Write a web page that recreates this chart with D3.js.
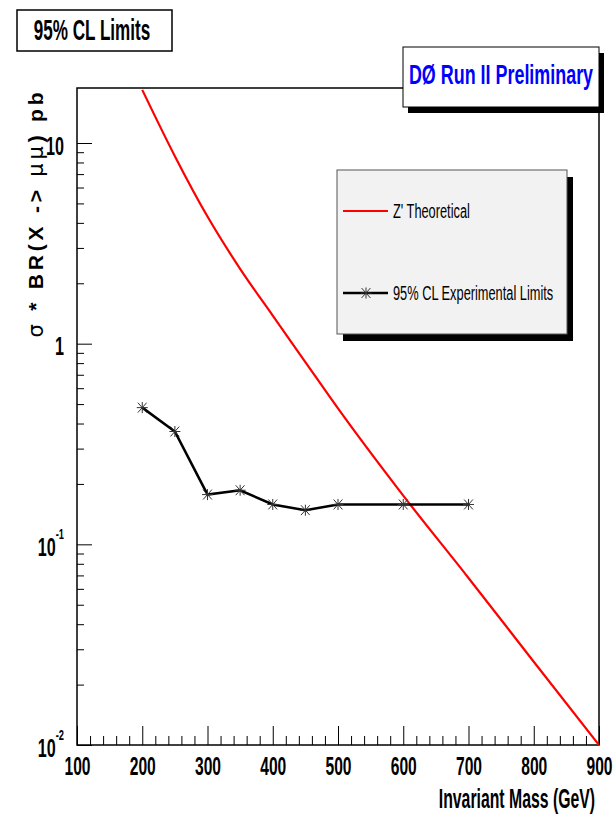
<!DOCTYPE html>
<html>
<head>
<meta charset="utf-8">
<script src="https://cdn.jsdelivr.net/npm/d3@7"></script>
<style>
body { margin: 0; background: #fff; }
text { font-family: "Liberation Sans", Arial, Helvetica, sans-serif; }
</style>
</head>
<body>
<div id="canvas"></div>
<script>
// 95% CL experimental limits (black, star markers)
var expMass = [200, 250, 300, 350, 400, 450, 500, 600, 700]
var expLimit = [0.48, 0.365, 0.177, 0.186, 0.158, 0.148, 0.158, 0.158, 0.158]

// Z' theoretical cross section (red)
var zMass = [200, 250, 300, 350, 400, 450, 500, 600, 700, 800, 900]
var zXsec = [18.4, 8.6, 4.3, 2.36, 1.38, 0.81, 0.476, 0.175, 0.068, 0.026, 0.01]

// tick labels
var xTicks = [100, 200, 300, 400, 500, 600, 700, 800, 900]
var yTicks = [0.01, 0.1, 1, 10]
var yTickBase = ['10', '10', '1', '10']
var yTickExp = ['-2', '-1', '', '']

var legendNames = ["Z' Theoretical", "95% CL Experimental Limits"]

//    frame
var W = 614, H = 816
var x0 = 77, x1 = 599, y0 = 88, y1 = 745

var svg = d3.select('#canvas').append('svg')
    .attr('width', W)
    .attr('height', H)

var xScale = d3.scaleLinear().domain([100, 900]).range([x0, x1])
var yScale = d3.scaleLog().domain([0.01, 18.8]).range([y1, y0])

// minor ticks
var xMinor = d3.range(100, 900, 20).filter(v => v % 100 != 0)
var yMinor = []
yTicks.forEach(function (d) {
    for (var m = 2; m <= 9; m++) {
        var v = d * m
        if (v < yScale.domain()[1]) yMinor.push(v)
    }
})

//    x axis
svg.append('g').attr('transform', 'translate(0,' + y1 + ')')
    .call(d3.axisBottom(xScale).tickValues(xMinor).tickSize(-9).tickSizeOuter(0).tickFormat(''))
var gx = svg.append('g').attr('transform', 'translate(0,' + y1 + ')')
    .call(d3.axisBottom(xScale).tickValues(xTicks).tickSize(-19).tickSizeOuter(0).tickFormat(d3.format('d')))

gx.selectAll('.tick text')
    .attr('y', 30)
    .attr('dy', null)
    .style('font-size', '26px')
    .style('font-weight', 'bold')
    .attr('fill', '#000')
    .attr('transform', 'scale(0.6,1)')

//    y axis
svg.append('g').attr('transform', 'translate(' + x0 + ',0)')
    .call(d3.axisLeft(yScale).tickValues(yMinor).tickSize(-7).tickSizeOuter(0).tickFormat(''))
var gy = svg.append('g').attr('transform', 'translate(' + x0 + ',0)')
    .call(d3.axisLeft(yScale).tickValues(yTicks).tickSize(-15).tickSizeOuter(0).tickFormat(''))

gy.selectAll('.tick text').each(function (d, i) {
    var t = d3.select(this)
    t.text(null)
        .attr('x', 0)
        .attr('y', 11)
        .attr('dy', null)
        .attr('text-anchor', 'end')
        .attr('fill', '#000')
        .style('font-size', '26px')
        .style('font-weight', 'bold')
        .attr('transform', 'translate(-13,0) scale(0.62,1)')
    t.append('tspan').text(yTickBase[i])
    if (yTickExp[i]) {
        t.append('tspan').attr('dy', -17).style('font-size', '15px').text(yTickExp[i])
    }
})

svg.selectAll('.domain').remove()
svg.selectAll('.tick line').attr('stroke', '#000').attr('stroke-width', 1)

//    frame
svg.append('rect')
    .attr('x', x0).attr('y', y0)
    .attr('width', x1 - x0).attr('height', y1 - y0)
    .attr('fill', 'none')
    .attr('stroke', '#000')
    .attr('stroke-width', 1.5)

svg.append('clipPath').attr('id', 'plotclip')
    .append('rect')
    .attr('x', x0).attr('y', y0)
    .attr('width', x1 - x0).attr('height', y1 - y0)

//    Z' curve
var zLine = d3.line()
    .x((d, i) => xScale(zMass[i]))
    .y(d => yScale(d))
    .curve(d3.curveMonotoneX)

svg.append('path')
    .datum(zXsec)
    .attr('clip-path', 'url(#plotclip)')
    .attr('d', zLine)
    .attr('fill', 'none')
    .attr('stroke', '#ff0000')
    .attr('stroke-width', 2.2)

//    experimental limits
var expLine = d3.line()
    .x((d, i) => xScale(expMass[i]))
    .y(d => yScale(d))

svg.append('path')
    .datum(expLimit)
    .attr('d', expLine)
    .attr('fill', 'none')
    .attr('stroke', '#000')
    .attr('stroke-width', 2.6)

function star(r) {
    var a = r * 0.8, b = r * 0.9
    return 'M0,' + (-r) + 'L0,' + r +
        'M' + (-a) + ',' + (-b) + 'L' + a + ',' + b +
        'M' + (-a) + ',' + b + 'L' + a + ',' + (-b) +
        'M' + (-r) + ',0L' + r + ',0'
}

svg.selectAll('.mk')
    .data(expLimit)
    .enter()
    .append('path')
    .attr('class', 'mk')
    .attr('transform', (d, i) => 'translate(' + xScale(expMass[i]) + ',' + yScale(d) + ')')
    .attr('d', star(5.5))
    .attr('fill', 'none')
    .attr('stroke', '#333')
    .attr('stroke-width', 1)

//    axis titles
svg.append('text')
    .attr('text-anchor', 'end')
    .attr('transform', 'translate(595,808) scale(0.585,1)')
    .style('font-size', '27px')
    .style('font-weight', 'bold')
    .text('Invariant Mass (GeV)')

var ylab = svg.append('text')
    .attr('text-anchor', 'middle')
    .attr('transform', 'translate(43,215) rotate(-90)')
    .attr('textLength', 245)
    .attr('lengthAdjust', 'spacing')
    .style('font-size', '21px')
    .style('font-weight', 'bold')
ylab.append('tspan').style('font-weight', 'normal').style('font-family', '"DejaVu Sans", sans-serif').text('σ')
ylab.append('tspan').text(' * BR(X -> ')
ylab.append('tspan').style('font-weight', 'normal').style('font-family', '"DejaVu Sans", sans-serif').text('μμ')
ylab.append('tspan').text(') pb')

//    legend
var lg = svg.append('g')
lg.append('rect')
    .attr('x', 343).attr('y', 177)
    .attr('width', 230).attr('height', 164)
    .attr('fill', '#000')
lg.append('rect')
    .attr('x', 337).attr('y', 170)
    .attr('width', 230).attr('height', 164)
    .attr('fill', '#f2f2f2')
    .attr('stroke', '#555')
    .attr('stroke-width', 1)

var legY = [211, 293]
lg.append('line')
    .attr('x1', 343).attr('x2', 388)
    .attr('y1', legY[0]).attr('y2', legY[0])
    .attr('stroke', '#ff0000').attr('stroke-width', 2.2)
lg.append('line')
    .attr('x1', 343).attr('x2', 388)
    .attr('y1', legY[1]).attr('y2', legY[1])
    .attr('stroke', '#000').attr('stroke-width', 2.6)
lg.append('path')
    .attr('transform', 'translate(366,' + legY[1] + ')')
    .attr('d', star(5.5))
    .attr('fill', 'none')
    .attr('stroke', '#333')

lg.selectAll('.legtext')
    .data(legendNames)
    .enter()
    .append('text')
    .attr('class', 'legtext')
    .attr('transform', (d, i) => 'translate(393,' + (legY[i] + 7) + ') scale(0.64,1)')
    .style('font-size', '20px')
    .text(d => d)

//    title boxes
svg.append('rect')
    .attr('x', 17).attr('y', 10)
    .attr('width', 155).attr('height', 41)
    .attr('fill', '#fff')
    .attr('stroke', '#000')
    .attr('stroke-width', 1.5)
svg.append('text')
    .attr('text-anchor', 'middle')
    .attr('transform', 'translate(92,40) scale(0.57,1)')
    .style('font-size', '30px')
    .style('font-weight', 'bold')
    .text('95% CL Limits')

svg.append('rect')
    .attr('x', 408).attr('y', 53)
    .attr('width', 196).attr('height', 60)
    .attr('fill', '#000')
svg.append('rect')
    .attr('x', 403).attr('y', 47)
    .attr('width', 196).attr('height', 60)
    .attr('fill', '#fff')
    .attr('stroke', '#000')
    .attr('stroke-width', 1)
svg.append('text')
    .attr('text-anchor', 'middle')
    .attr('transform', 'translate(501,84) scale(0.64,1)')
    .style('font-size', '28px')
    .style('font-weight', 'bold')
    .attr('fill', '#0000ff')
    .text('DØ Run II Preliminary')
</script>
</body>
</html>
